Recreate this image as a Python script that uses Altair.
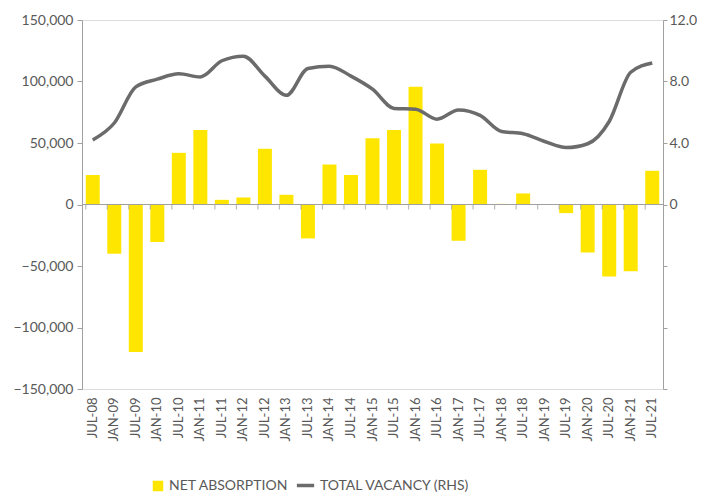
import altair as alt
import pandas as pd

periods = ["JUL-08","JAN-09","JUL-09","JAN-10","JUL-10","JAN-11","JUL-11","JAN-12","JUL-12",
           "JAN-13","JUL-13","JAN-14","JUL-14","JAN-15","JUL-15","JAN-16","JUL-16","JAN-17",
           "JUL-17","JAN-18","JUL-18","JAN-19","JUL-19","JAN-20","JUL-20","JAN-21","JUL-21"]
net_absorption = [24000,-40000,-120000,-30500,42000,60500,3800,5700,45300,7900,-27600,32500,
                  24000,53900,60500,95700,49600,-29500,28200,500,9000,300,-7000,-39000,
                  -58500,-54200,27400]
total_vacancy = [4.2,5.3,7.65,8.15,8.5,8.3,9.35,9.65,8.35,7.1,8.85,9.0,8.35,7.5,6.25,6.2,
                 5.55,6.15,5.8,4.75,4.6,4.1,3.7,3.95,5.4,8.6,9.2]

df = pd.DataFrame({"period": periods, "absorption": net_absorption, "vacancy": total_vacancy,
                   "zero": 0, "s1": "NET ABSORPTION", "s2": "TOTAL VACANCY (RHS)"})

FONT = "Lato"
TXT = "#595959"
AX = "#a0a0a0"

xscale = alt.Scale(paddingInner=0.35, paddingOuter=0.175)
ydom = [-150000, 150000]

bars = alt.Chart(df).mark_bar(color="#FFE600").encode(
    x=alt.X("period:N", sort=periods, scale=xscale, title=None,
            axis=alt.Axis(orient="bottom", labelAngle=-90, domain=False, ticks=False, labelPadding=8,
                          labelFontSize=13, labelColor=TXT, labelFont=FONT)),
    y=alt.Y("absorption:Q", title=None, scale=alt.Scale(domain=ydom, nice=False),
            axis=alt.Axis(orient="left", values=[-150000, -100000, -50000, 0, 50000, 100000, 150000],
                          format=",d", grid=False, domainColor=AX, tickColor=AX, tickSize=5,
                          labelFontSize=14, labelColor=TXT, labelFont=FONT, labelPadding=4)),
    fill=alt.Fill("s1:N", scale=alt.Scale(range=["#FFE600"]), title=None,
                  legend=alt.Legend(orient="none", legendX=69, legendY=459, symbolType="square",
                                    symbolSize=110, labelFontSize=14, labelColor=TXT,
                                    labelFont=FONT, symbolStrokeWidth=0)),
)

zero_rule = alt.Chart(df).mark_rule(color=AX, strokeWidth=1.2).encode(
    y=alt.Y("zero:Q", scale=alt.Scale(domain=ydom, nice=False), axis=None),
)

zero_ticks = alt.Chart(df).mark_tick(color=AX, orient="vertical", size=5, thickness=1.2, yOffset=2.5).encode(
    x=alt.X("period:N", sort=periods, scale=xscale, bandPosition=0, title=None),
    y=alt.Y("zero:Q", scale=alt.Scale(domain=ydom, nice=False), axis=None),
)

line = alt.Chart(df).mark_line(color="#6b6b6b", strokeWidth=3.5, interpolate="monotone").encode(
    x=alt.X("period:N", sort=periods, scale=xscale, title=None),
    y=alt.Y("vacancy:Q", title=None,
            scale=alt.Scale(domain=[-12, 12], nice=False),
            axis=alt.Axis(orient="right", values=[-12, -8, -4, 0, 4, 8, 12], grid=False,
                          labelExpr="datum.value > 0 ? format(datum.value, '.1f') : (datum.value == 0 ? '0' : '')",
                          domainColor=AX, tickColor=AX, tickSize=4,
                          labelFontSize=14, labelColor=TXT, labelFont=FONT, labelPadding=2)),
    stroke=alt.Stroke("s2:N", scale=alt.Scale(range=["#6b6b6b"]), title=None,
                      legend=alt.Legend(orient="none", legendX=213, legendY=455, symbolType="stroke",
                                        symbolSize=300, symbolStrokeWidth=3.5, labelFontSize=14,
                                        labelColor=TXT, labelFont=FONT)),
)

chart = alt.layer(bars, zero_rule, zero_ticks, line).resolve_scale(y="independent").properties(
    width=581, height=369,
    autosize=alt.AutoSizeParams(type="none"),
    padding={"left": 74, "top": 12, "right": 34, "bottom": 103},
).configure_view(stroke=None).configure(font=FONT)

chart.save("out.html", embed_options={"renderer": "svg", "actions": False})
